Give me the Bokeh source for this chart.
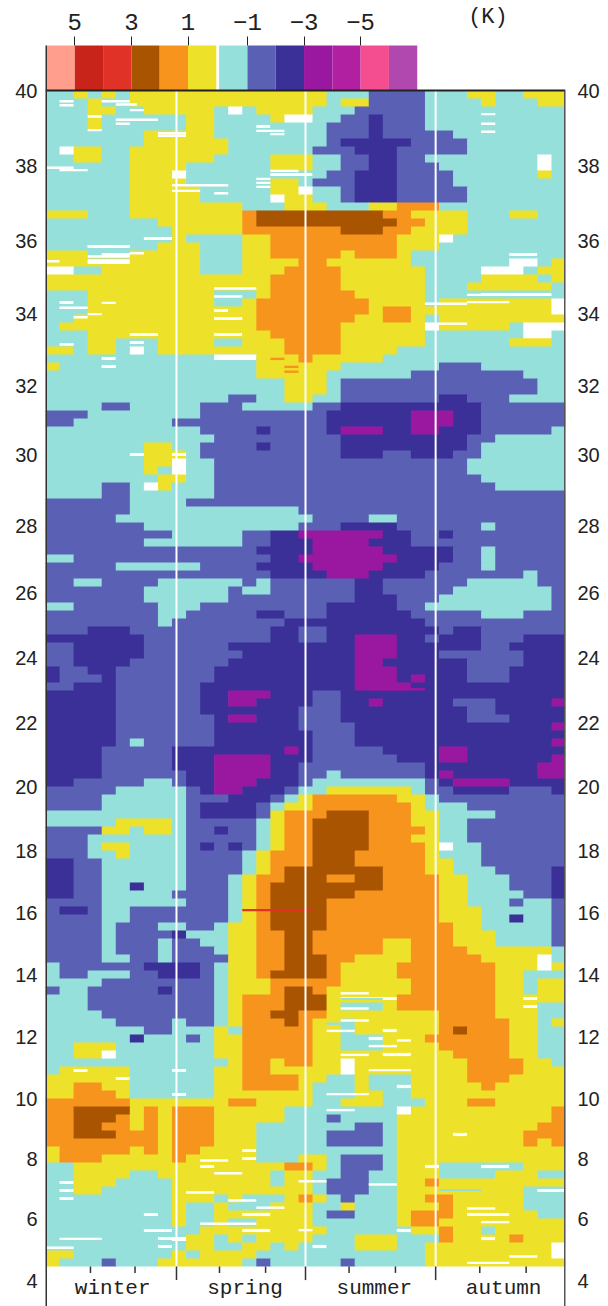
from bokeh.plotting import figure
from bokeh.models import Range1d, LinearAxis, FixedTicker, ColumnDataSource
from bokeh.core.properties import value
from bokeh.embed import file_html
from bokeh.resources import INLINE

# Height levels of the cross-section, given as "code+start column" runs, top row first
# W = a thin white streak inside the row, X = a full white cell
cross_section = [
"C0 Y2 C3 Y4 C5 Y6 C20 B23 C27 Y30 C32 Y34",
"C0 Y3 C4 Y6 C20 Y21 B23 C27 Y31 C32 Y35",
"C0 Y3 C5 Y7 C12 X13 C14 Y15 C19 B22 C27",
"C0 Y3 C4 Y10 C12 Y16 X17 C19 B21 N23 B24 C27",
"C0 Y3 C4 Y10 C12 W15 C16 B20 N23 B24 C27",
"C0 Y7 C12 B20 N23 B24 C29",
"C0 Y7 C13 B20 N21 B26 C30",
"C0 X1 Y2 C4 Y6 C13 B19 N22 B25 C30",
"C0 Y2 C4 Y6 C12 Y16 C19 B21 N23 B25 C27 X35 C36",
"C0 Y6 C10 Y16 C19 B21 N23 B25 C28 X35 C36",
"C0 Y6 X9 C10 Y16 W16 C19 B20 N22 B25 C29 Y35 C36",
"C0 Y6 C10 C15 Y16 C18 B19 N22 B25 C29",
"C0 Y6 C11 Y16 X18 C19 B21 N22 B25 C30",
"C0 Y6 C11 X16 Y17 C19 B21 N22 B25 C30",
"C0 Y6 C14 Y17 C20 Y23 O25 C28",
"Y0 C3 Y6 O14 R15 O24 Y26 C30 Y33 C35",
"C0 Y8 O14 R15 O25 Y27 C30",
"C0 Y9 O14 R21 O24 Y26 C30",
"C0 W7 Y9 C10 Y14 O16 Y25 X28 C29",
"C0 W3 C6 Y8 C11 Y14 O16 Y25 C28",
"Y0 C3 W4 Y6 C11 Y14 O16 Y21 O22 Y25 C26 W33 C35",
"Y0 W3 Y6 C11 Y14 O18 Y20 C26 X33 C35 Y36",
"X0 C2 Y4 C11 Y14 O17 Y21 C27 X31 C34 Y35",
"Y0 O16 Y21 C27 Y31 C35 Y36",
"Y0 O16 Y21 C27 Y30 C36",
"C0 Y3 C12 Y15 O16 Y22 C27 W31 C36",
"C0 W1 C2 Y3 C12 Y14 O15 Y23 C27 Y28 X36",
"C0 Y3 W12 Y13 O15 Y23 O24 Y26 X36",
"C0 Y2 W12 Y14 O15 Y22 O24 Y26 C27 Y28",
"C0 Y1 O15 Y21 X27 Y28 C33 X34",
"C0 Y3 W6 Y8 W12 Y14 O16 Y21 C27 X34 C36",
"C0 Y3 C5 W6 C7 Y8 C12 Y14 O17 Y21 C27 Y33 C36",
"Y0 C2 Y3 C5 X6 C7 Y8 Y14 O17 Y21 C25",
"C0 W4 C5 W12 Y15 O18 Y19 C24",
"Y0 C1 W4 C5 Y15 C21 B28 C31",
"C0 Y15 C20 B26 C34",
"C0 Y17 C20 B21 C35",
"C0 Y17 C20 B21 C35",
"C0 B13 C15 Y17 C19 B21 N28 B30 C33",
"C0 B4 C6 B11 C14 B19 N21 B31",
"B0 C3 B11 N20 P26 N29 B31",
"B0 C2 C4 B9 N20 P26 N29 B31",
"C0 B11 N15 B16 N20 P21 N24 P26 N28 B31 C36",
"C0 B12 N21 B30 C32",
"C0 Y7 C9 B11 N15 B16 N21 N28 B30 C31",
"C0 W6 Y7 W9 C10 B11 N21 B24 N26 B29 C31",
"C0 Y7 X9 C10 B12 C30",
"C0 Y7 C8 X9 C10 B12 C30",
"C0 Y8 C10 B12 C31",
"C0 B4 C6 X7 Y8 C9 B12 C32",
"C0 B4 C6 B12",
"B0 C6 B10",
"B0 C6 B18",
"B0 C5 B19 C23 B25",
"B0 C7 B18 N21 B25 C31 B32",
"B0 C9 B14 N16 P18 N24 B26 N28 B29",
"B0 C7 B14 N16 P19 N23 B26",
"B0 N15 P19 N24 B29 C31 B32",
"C0 B2 N16 P18 N25 B29 C31 B32",
"B0 C5 B11 N15 P19 N24 B28 C31 B32",
"B0 N16 P20 N23 B27 C34 B35",
"B0 C2 B4 C8 B14 C15 B16 N22 B24 C30 B35",
"B0 C7 B13 C14 B16 N22 B24 C29 B36",
"B0 C7 B13 N22 B25 C28 B36",
"C0 B2 C8 B11 N20 B25 C27 B36",
"B0 C8 B10 N15 B17 N20 B26 C31 B34",
"B0 C8 B9 N17 B27",
"B0 N3 B6 N16 B18 N20 B28 N29 B31",
"N0 B7 N16 B18 N20 P22 N25 B27 N28 B31 N34",
"B0 N2 B7 N13 P22 N25 N28 B31 N33",
"B0 N2 B7 N14 P22 N25 B28 N34",
"B0 N2 B6 N13 P22 N24 B30 N34",
"N0 B1 N3 B5 N12 P22 N25 B30 N33",
"N0 B1 N4 B5 N12 P22 N25 P26 N27 B30 N33",
"B0 N2 B5 N11 P22 N26",
"N0 B5 N11 P13 N16 B19 N21",
"N0 B5 N11 P13 N15 B19 N21 P23 N24 B29 N32 P36",
"N0 B5 N11 B18 N21 B30 N32",
"N0 B5 B11 N12 P13 N15 B18 N21 B30 N33",
"N0 B5 N12 B18 N22 P36",
"N0 B5 N12 N18 B19 N22",
"N0 B5 C6 B7 N12 B19 N22 P36",
"N0 B4 N9 P17 N18 B19 N24 P28 N30",
"N0 B4 N9 P12 N16 B19 N25 P28 N30 P36",
"N0 B4 N9 P12 N16 B18 N27 P35",
"N0 B4 N10 P12 N16 B18 C20 B21 N27 P28 N29 P35",
"N0 B2 C7 B9 N10 P12 N15 B18 C19 B27 N28 P29 N33",
"B0 C5 B10 N11 P12 N14 B17 C18 Y20 C26 B27 N29 B33 N36",
"B0 C4 B10 N13 B16 C17 Y18 O19 Y25 C27 B28",
"B0 C4 B10 N11 B15 C16 Y17 O19 Y26 C27 B30",
"C0 C5 B10 N11 B15 Y16 O17 R20 O23 Y26 C28 B32",
"C0 Y5 C9 B10 C15 Y16 O17 R19 O23 Y26 C28 B30",
"B0 C4 Y4 C6 Y7 C9 B10 N12 B13 C15 Y16 O17 R19 O23 Y27 C28 B30",
"B0 C3 B10 C15 Y16 O17 R19 O23 Y26 C28 B30",
"B0 C3 Y4 C6 B10 N11 B12 N13 B14 C15 Y16 O17 R19 O23 Y27 X28 C29 B31",
"B0 C3 Y5 C6 B10 C14 Y15 O16 R19 O22 Y27 C28 B31",
"N0 B2 C4 B10 C14 Y15 O16 R19 O22 Y27 C29 B31",
"N0 B2 C4 B10 C14 Y15 O16 R17 O24 Y27 C29 B32 N36",
"N0 B2 C4 B10 C13 Y14 O15 R17 O20 R22 O24 Y28 C30 B33 N36",
"N0 B2 C4 N6 C7 B10 C13 Y14 O15 R16 O24 Y28 C30 B33 N36",
"N0 B2 C4 B9 C13 Y14 O15 R16 O22 Y28 C30 B34 N36",
"B0 C4 B5 C5 B10 C13 Y14 O15 R16 O20 Y28 C30 B33 C34 B36",
"B0 N1 B3 C4 B6 C13 Y14 O15 R16 O20 Y28 C31 B36",
"B0 C4 B6 B10 C13 Y14 O15 R16 O20 Y28 C31 N33 C34 B36",
"B0 C4 B5 C8 B10 C12 Y13 O15 R16 O20 Y29 C31 B36",
"B0 C4 B5 N9 C10 C12 Y13 O15 R17 O19 Y29 C32 B36",
"B0 C4 B5 C8 B9 C11 Y13 O15 R17 O19 Y24 O26 Y29 C32 B36",
"B0 C4 B5 C8 B9 C12 Y13 O15 R17 O19 Y24 O26 Y30 C36",
"B0 C4 B6 C8 B9 Y13 O15 R17 O20 Y22 O26 Y31 X35 C36",
"C0 B1 N7 B11 C12 Y13 O15 R17 O20 Y21 O25 Y32 X35 Y36",
"C0 B1 C3 B6 N8 N10 B11 C12 Y13 O15 R16 O20 Y21 O25 Y32 C34",
"C0 B4 C12 Y13 O16 Y21 O26 Y32 C34 Y35",
"B0 C1 B3 N8 B9 C12 Y13 O16 R17 O19 Y20 O26 Y32 C34 Y35",
"C0 B3 C12 Y13 O14 R17 O20 Y20 W21 Y25 O25 Y32 W34 Y35",
"C0 B3 C12 Y13 O14 R17 O20 Y20 C21 Y24 O25 Y32 W34 C35",
"C0 B4 C12 Y13 O14 R16 O18 Y20 O28 Y32 C35",
"C0 B5 C9 B10 C12 Y13 O14 R17 O18 Y19 C21 Y22 O28 Y33 C35 Y36",
"C0 B7 C9 Y12 C13 O14 Y19 C21 Y22 W24 Y25 O28 R29 O30 Y33 C35",
"C0 N6 C7 B10 C11 Y12 O14 Y19 C21 W23 Y24 O27 Y33 C35",
"C0 Y2 C5 Y12 O14 Y19 C21 Y24 O28 Y33 C35",
"C0 Y2 X4 C5 Y12 O14 Y19 W24 Y26 O29 Y33 C35",
"C0 Y13 O14 Y16 O17 Y19 X21 Y22 O30 Y34 C36",
"C0 Y1 W2 Y3 C6 W9 C10 Y12 O14 Y16 C21 X21 Y22 O30 Y34",
"Y0 W5 C6 Y12 O14 Y18 C20 Y22 C23 Y26 O30 Y33",
"Y0 O2 Y4 C6 Y12 O14 Y18 C19 Y22 C23 W25 Y26 O31 Y32",
"Y0 O2 Y5 C6 W9 C10 Y12 C19 Y22 C24 Y26",
"O0 Y6 O13 Y15 C19 Y21 C24 Y27 O30 Y32",
"O0 R2 O6 Y6 O7 Y8 O9 Y12 C17 X25 Y26 O36",
"O0 R2 O5 Y6 O7 Y8 O9 Y12 C17 B20 C21 Y25 O36",
"O0 R2 O4 Y6 O7 Y8 O9 Y12 C15 B22 C24 Y25 O35",
"O0 R2 O5 O6 O7 Y8 O9 Y12 C15 B20 C24 Y25 W29 Y30 O34",
"O0 O7 Y8 O9 Y12 C15 B20 C24 Y25 O34 Y35 O36",
"Y0 O1 O5 Y6 O7 Y8 O9 Y11 W14 C15 C24 Y25",
"Y0 O1 Y4 O9 Y10 W14 C15 Y18 C20 B21 C24 Y25",
"C0 Y2 W11 Y12 O17 Y19 C20 B21 C24 Y25 W27 C28 W31 C33 Y34",
"C0 Y2 C6 Y8 C16 Y17 C19 B21 C23 Y25 C28 Y32 C35",
"C0 W1 Y2 C5 Y9 C16 Y17 C19 B20 C23 Y25 O27 Y28",
"C0 W1 Y2 C4 Y9 C19 B20 C23 Y25 C34 W35",
"C0 W1 C2 Y9 C12 Y13 C14 Y17 O18 Y19 C20 B21 C22 Y25 O27 Y29 C34",
"C0 Y9 C10 Y12 C13 Y16 C19 Y21 C22 Y25 O28 Y29 C34",
"C0 W7 C8 Y9 C10 Y12 W14 Y16 C19 B20 C22 Y25 O26 Y29 W30 Y33 C35",
"C0 Y9 C10 Y12 C13 Y15 C19 C25 Y25 O26 Y28",
"C0 W7 C9 Y11 W14 Y16 C20 W25 Y26 O28 Y29 C31 Y32",
"C0 W8 Y10 C12 Y13 C14 Y15 C19 Y22 C25 Y28 O28 Y29 W31 Y32 O33 Y34",
"C0 W8 C9 Y10 C12 Y14 C16 Y17 C18 W19 C20 Y22 C25 Y27 X36",
"Y0 C2 Y9 C10 Y11 C15 Y27 X36",
"Y0 C1 B4 C5 Y8 C14 B15 C16 B21 C22 Y27",
]

# Thin streaks: row, first column, last column, code
thin_streaks = [
(102.3, 14.0, 19.0, "D"),
(1.2, 1, 2, "W"), (1.7, 1, 2, "W"), (1.2, 4, 6, "W"), (1.6, 5, 6.5, "W"), (2.3, 6, 7, "W"),
(3.1, 3, 4, "W"), (3.5, 5, 8, "W"), (4.0, 5, 6, "W"), (4.8, 3, 4, "W"), (5.2, 8, 10, "W"), (5.5, 8, 10, "W"),
(2.8, 31, 32, "W"), (4.0, 31, 32, "W"), (5.0, 31, 32, "W"), (4.9, 15, 17, "W"), (5.3, 16, 17, "W"),
(9.5, 0, 2, "W"), (9.8, 1, 3, "W"), (11.7, 9, 13, "W"), (12.4, 9, 11, "W"), (12.7, 12, 13, "W"),
(10.9, 15, 16, "W"), (11.4, 15, 16, "W"), (11.9, 15, 16, "W"), (9.9, 16, 18, "W"),
(19.3, 3, 6, "W"), (20.6, 3, 6, "W"), (20.2, 6, 7, "W"), (21.2, 0, 1, "W"), (21.1, 3, 6, "W"),
(24.6, 12, 15, "W"), (25.6, 12, 14, "W"), (26.4, 4, 5, "W"), (27.0, 1, 3, "W"), (27.8, 3, 4, "W"),
(28.2, 2, 3, "W"), (28.4, 12, 14, "W"), (33.0, 12, 15, "W"), (26.5, 27, 30, "W"), (26.3, 30, 33, "W"),
(25.4, 30, 36, "W"), (29.0, 28, 30, "W"), (31.0, 33, 36, "Y"), (31.5, 33, 36, "Y"),
(31.6, 1, 2, "W"), (34.4, 4, 5, "W"), (33.4, 16, 17, "O"), (34.4, 17, 18, "O"), (35.0, 17, 18, "O"),
(39.6, 4, 6, "B"), (74.7, 23, 27, "P"), (118.6, 25, 26, "W"), (119.3, 23, 25, "W"), (120.4, 21, 23, "W"),
(122.3, 23, 26, "W"), (125.3, 20, 23, "W"), (127.3, 20, 22, "W"), (116.5, 20, 22, "C"), (117.4, 20, 22, "W"),
(116.1, 21, 23, "W"), (113.4, 21, 24, "C"), (114.6, 21, 23, "W"), (112.7, 21, 23, "W"), (135.2, 12, 14, "W"),
(137.6, 10, 12, "W"), (138.6, 13, 15, "W"), (139.5, 15, 17, "W"), (141.5, 11, 15, "W"), (133.6, 11, 13, "W"),
(136.2, 18, 20, "W"), (136.6, 23, 25, "W"), (137.3, 28, 31, "C"), (139.6, 30, 32, "W"), (141.3, 31, 33, "W"),
(143.4, 1, 4, "W"), (144.5, 0, 2, "X"), (143.5, 9, 10, "W"), (142.3, 18, 19, "W"), (145.6, 33, 35, "W"),
(146.4, 30, 33, "W"),
]

anomaly_colors = {"S": "#FF9E8C", "E": "#C8241A", "D": "#E03227", "R": "#A85400", "O": "#F7941D",
                  "Y": "#EDE12A", "C": "#96E0DC", "B": "#5A60B4", "N": "#3A3098", "P": "#9A18A0",
                  "M": "#B020A0", "K": "#F54E90", "V": "#B048B0", "W": "#FFFFFF", "X": "#FFFFFF"}
legend_codes = ["S", "E", "D", "R", "O", "Y", "C", "B", "N", "P", "M", "K", "V"]
legend_starts = [0, 1, 2, 3, 4, 5, 6.1, 7.1, 8.1, 9.1, 10.1, 11.1, 12.1]
legend_ticks = [1, 3, 5, 7.1, 9.1, 11.1]
legend_labels = ["5", "3", "1", "\u22121", "\u22123", "\u22125"]
unit_tick = [15.6]
unit_label = ["(K)"]

height_km = [40, 38, 36, 34, 32, 30, 28, 26, 24, 22, 20, 18, 16, 14, 12, 10, 8, 6, 4]
height_level = [147.0, 137.6, 128.2, 119.1, 110.1, 101.4, 92.6, 84.2, 76.1, 68.0, 59.9, 52.0, 44.2, 36.4, 28.7, 21.0, 13.5, 6.0, -1.8]

season_names = ["winter", "spring", "summer", "autumn"]
season_centers = [4.78, 14.2, 23.4, 32.6]
season_edges = [9.32, 18.5, 27.76]
month_ticks = [3.2, 6.37, 12.38, 15.66, 21.6, 24.9, 30.9, 34.2]

N_COLS = 37
N_ROWS = len(cross_section)
TOP = 5.625   # legend strip, in rows
HEAD = 5.625  # room above the legend strip for its labels, in rows
BOTTOM = 5.0  # season strip, in rows

p = figure(width=608, height=1306, output_backend="svg", toolbar_location=None,
           x_range=Range1d(0, N_COLS), y_range=Range1d(-BOTTOM, N_ROWS + TOP + HEAD),
           x_axis_location=None, y_axis_location=None,
           min_border_left=45, min_border_right=43, min_border_top=0, min_border_bottom=0)
p.outline_line_color = None
p.grid.visible = False
p.background_fill_color = "#FFFFFF"
p.extra_x_ranges = {"bar": Range1d(-1 / 28.3, 519 / 28.3)}

L, R, T, B, F = [], [], [], [], []


def add_cell(start, end, top, bottom, color, overlap=True):
    # cells overlap slightly under the following ones so no hairlines show between them
    L.append(start)
    R.append(min(end + 0.04, N_COLS) if overlap else end)
    T.append(top)
    B.append(max(bottom - 0.12, 0) if overlap else bottom)
    F.append(color)


for i, row in enumerate(cross_section):
    toks = row.split()
    last = toks[0][0]
    top = N_ROWS - i
    for k, tok in enumerate(toks):
        start = int(tok[1:])
        end = int(toks[k + 1][1:]) if k + 1 < len(toks) else N_COLS
        if end <= start:
            continue
        code = tok[0]
        if code == "W":
            add_cell(start, end, top, top - 1, anomaly_colors[last])
            add_cell(start, end, top - 0.3, top - 0.7, "#FFFFFF", overlap=False)
            continue
        if code != "X":
            last = code
        add_cell(start, end, top, top - 1, anomaly_colors[code])
p.quad(left="l", right="r", top="t", bottom="b", fill_color="f", line_color=None,
       source=ColumnDataSource(dict(l=L, r=R, t=T, b=B, f=F)))

p.quad(left=[s[1] for s in thin_streaks], right=[s[2] for s in thin_streaks],
       top=[N_ROWS - s[0] for s in thin_streaks], bottom=[N_ROWS - s[0] - 0.3 for s in thin_streaks],
       fill_color=[anomaly_colors[s[3]] for s in thin_streaks], line_color=None)

# white season separators
p.segment(x0=season_edges, x1=season_edges, y0=[0] * 3, y1=[N_ROWS] * 3, line_color="#FFFFFF", line_width=2)

# legend strip
p.quad(left=legend_starts, right=[s + 1 for s in legend_starts], bottom=[N_ROWS] * 13, top=[N_ROWS + TOP] * 13,
       fill_color=[anomaly_colors[c] for c in legend_codes], line_color=None, x_range_name="bar")

# frame
p.segment(x0=[0], x1=[N_COLS], y0=[N_ROWS], y1=[N_ROWS], line_color="#222222", line_width=2)
p.segment(x0=[N_COLS], x1=[N_COLS], y0=[-BOTTOM], y1=[N_ROWS], line_color="#555555", line_width=3)
p.segment(x0=[0], x1=[0], y0=[-BOTTOM], y1=[N_ROWS + TOP], line_color="#333333", line_width=3)

# season ticks and labels
p.segment(x0=season_edges, x1=season_edges, y0=[0] * 3, y1=[-1.7] * 3, line_color="#333333", line_width=1.5)
p.segment(x0=month_ticks, x1=month_ticks, y0=[0] * 8, y1=[-0.8] * 8, line_color="#333333", line_width=1.5)
p.text(x=season_centers, y=[-2.8] * 4, text=season_names, text_align="center", text_baseline="middle",
       text_font=value("Liberation Mono"), text_font_size="21px", text_color="#222222")

top_axis = LinearAxis(x_range_name="bar", ticker=FixedTicker(ticks=legend_ticks),
                      major_label_overrides={t: s for t, s in zip(legend_ticks, legend_labels)},
                      fixed_location=N_ROWS + TOP)
top_axis.axis_line_color = None
top_axis.major_tick_out = 9
top_axis.major_tick_in = 0
top_axis.major_tick_line_color = "#222222"
top_axis.major_tick_line_width = 1
top_axis.minor_tick_line_color = None
top_axis.major_label_standoff = 7
top_axis.major_label_text_font = "Liberation Mono"
top_axis.major_label_text_font_size = "24px"
top_axis.major_label_text_color = "#222222"
p.add_layout(top_axis, "above")

unit_axis = LinearAxis(x_range_name="bar", ticker=FixedTicker(ticks=unit_tick),
                       major_label_overrides={t: s for t, s in zip(unit_tick, unit_label)},
                       fixed_location=N_ROWS + TOP)
unit_axis.axis_line_color = None
unit_axis.major_tick_out = 0
unit_axis.major_tick_in = 0
unit_axis.major_tick_line_color = None
unit_axis.minor_tick_line_color = None
unit_axis.major_label_standoff = 16
unit_axis.major_label_text_font = "Liberation Mono"
unit_axis.major_label_text_font_size = "22px"
unit_axis.major_label_text_color = "#222222"
p.add_layout(unit_axis, "above")

for side in ("left", "right"):
    ax = LinearAxis(ticker=FixedTicker(ticks=height_level),
                    major_label_overrides={t: str(s) for t, s in zip(height_level, height_km)})
    ax.major_tick_in = 0
    ax.major_tick_out = 0
    ax.major_tick_line_color = None
    ax.minor_tick_line_color = None
    ax.major_label_standoff = 8 if side == "left" else 12
    ax.major_label_text_font = "Liberation Sans"
    ax.major_label_text_font_size = "20px"
    ax.major_label_text_color = "#222222"
    ax.axis_line_color = None
    p.add_layout(ax, side)

open("out.html", "w").write(file_html(p, INLINE))
